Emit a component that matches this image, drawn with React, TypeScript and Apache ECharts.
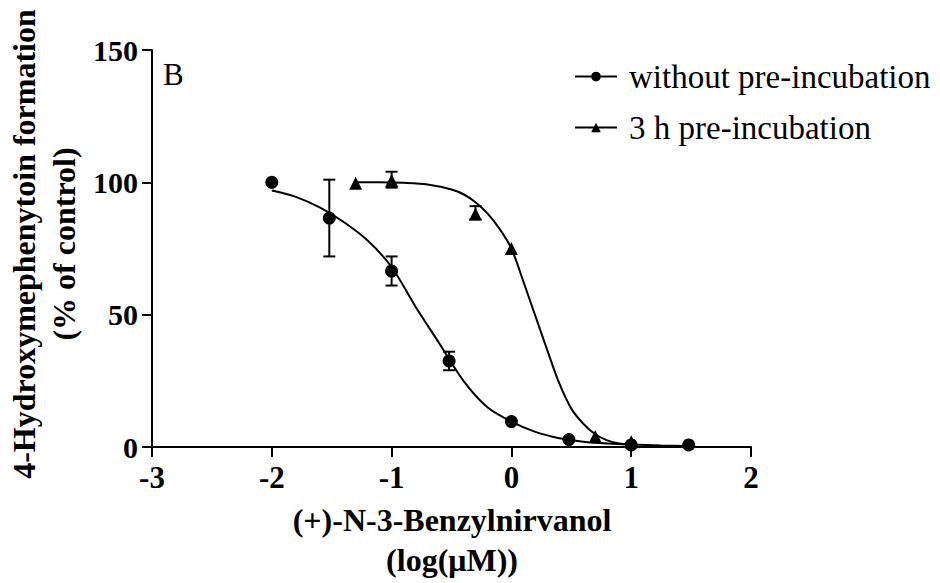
import React, { useEffect, useRef } from "react";
import * as echarts from "echarts";

// Measured data: without pre-incubation (circles)
const circleX = [-2, -1.52, -1, -0.52, 0, 0.48, 1, 1.48];
const circleY = [100, 86.5, 66.5, 32.5, 9.6, 2.8, 0.8, 0.8];
const circleErrX = [-1.52, -1, -0.52];
const circleErrLow = [72, 61, 29];
const circleErrHigh = [101, 72, 36];

// 3 h pre-incubation (triangles)
const triX = [-1.3, -1, -0.3, 0, 0.7, 1];
const triY = [99.7, 100.7, 88, 75, 4, 2];
const triErrX = [-1, -0.3];
const triErrLow = [98, 86];
const triErrHigh = [104, 91];

// Fitted curves
const circleCurveX = [-2, -1.8, -1.6, -1.4, -1.2, -1, -0.8, -0.6, -0.4, -0.2, 0, 0.2, 0.4, 0.6, 0.8, 1, 1.25, 1.48];
const circleCurveY = [96.9, 94.5, 90.5, 85, 78, 68, 53, 39, 25, 15, 9.6, 5.7, 3.3, 2.0, 1.3, 0.9, 0.6, 0.4];
const triCurveX = [-1.3, -1.1, -0.9, -0.7, -0.5, -0.4, -0.3, -0.2, -0.1, 0, 0.1, 0.2, 0.3, 0.4, 0.5, 0.6, 0.7, 0.8, 0.9, 1];
const triCurveY = [100, 100, 99.8, 99.2, 97.3, 95.5, 92.5, 88.3, 82.5, 75, 62.5, 49.5, 36.5, 24, 14.5, 8.8, 4.8, 2.5, 1.3, 0.8];

const xTickMin = -3;
const xTickMax = 2;
const yTickMin = 0;
const yTickMax = 150;

const seriesNames = ["without pre-incubation", "3 h pre-incubation"];
const xTitle = "(+)-N-3-Benzylnirvanol\n(log(μM))";
const yTitle = "4-Hydroxymephenytoin formation\n(% of control)";
const panelLabel = "B";

const FONT = '"Liberation Serif", "Times New Roman", serif';

function zip(a: number[], b: number[]) {
  return a.map((v, i) => [v, b[i]]);
}
function zip3(a: number[], b: number[], c: number[]) {
  return a.map((v, i) => [v, b[i], c[i]]);
}

function errRender(params: any, api: any) {
  const x = api.value(0);
  const lo = api.coord([x, api.value(1)]);
  const hi = api.coord([x, api.value(2)]);
  const w = 6;
  const style = { stroke: "#000", lineWidth: 2 };
  return {
    type: "group",
    children: [
      { type: "line", shape: { x1: lo[0], y1: lo[1], x2: hi[0], y2: hi[1] }, style },
      { type: "line", shape: { x1: hi[0] - w, y1: hi[1], x2: hi[0] + w, y2: hi[1] }, style },
      { type: "line", shape: { x1: lo[0] - w, y1: lo[1], x2: lo[0] + w, y2: lo[1] }, style },
    ],
  };
}

export default function App() {
  const ref = useRef<HTMLDivElement>(null);
  useEffect(() => {
    const chart = echarts.init(ref.current!, null, { renderer: "svg" });
    const tickStyle = { show: true, inside: false, length: 10, lineStyle: { color: "#000", width: 2 } };
    chart.setOption({
      animation: false,
      backgroundColor: "#fff",
      grid: { left: 152, right: 189, top: 50, bottom: 136, containLabel: false },
      xAxis: {
        type: "value",
        min: xTickMin,
        max: xTickMax,
        interval: 1,
        axisLine: { show: true, onZero: false, lineStyle: { color: "#000", width: 2 } },
        axisTick: tickStyle,
        splitLine: { show: false },
        axisLabel: { color: "#000", fontFamily: FONT, fontWeight: "bold", fontSize: 31, margin: 15 },
      },
      yAxis: {
        type: "value",
        min: yTickMin,
        max: yTickMax,
        interval: 50,
        axisLine: { show: true, onZero: false, lineStyle: { color: "#000", width: 2 } },
        axisTick: tickStyle,
        splitLine: { show: false },
        axisLabel: { color: "#000", fontFamily: FONT, fontWeight: "bold", fontSize: 30, margin: 14 },
      },
      legend: {
        orient: "vertical",
        left: 569,
        top: 55,
        itemGap: 18,
        itemWidth: 42,
        itemHeight: 12,
        data: seriesNames,
        textStyle: { color: "#000", fontFamily: FONT, fontSize: 33, padding: [0, 0, 0, 7] },
      },
      graphic: [
        {
          type: "text",
          left: 163,
          top: 59,
          style: { text: panelLabel, fill: "#000", font: `31px ${FONT}` },
        },
        {
          type: "text",
          x: 452,
          y: 540,
          style: {
            text: xTitle,
            fill: "#000",
            font: `bold 32px ${FONT}`,
            align: "center",
            verticalAlign: "middle",
            lineHeight: 40,
          },
        },
        {
          type: "text",
          x: 44,
          y: 244,
          rotation: Math.PI / 2,
          style: {
            text: yTitle,
            fill: "#000",
            font: `bold 32px ${FONT}`,
            align: "center",
            verticalAlign: "middle",
            lineHeight: 40,
          },
        },
      ],
      series: [
        {
          name: seriesNames[0],
          type: "line",
          data: zip(circleCurveX, circleCurveY),
          smooth: 0.3,
          showSymbol: false,
          symbol: "circle",
          symbolSize: 10,
          itemStyle: { color: "#000" },
          lineStyle: { color: "#000", width: 2 },
          z: 2,
        },
        {
          name: seriesNames[1],
          type: "line",
          data: zip(triCurveX, triCurveY),
          smooth: 0.3,
          showSymbol: false,
          symbol: "triangle",
          symbolSize: 10,
          itemStyle: { color: "#000" },
          lineStyle: { color: "#000", width: 2 },
          z: 2,
        },
        {
          name: seriesNames[0],
          type: "scatter",
          data: zip(circleX, circleY),
          symbol: "circle",
          symbolSize: 13,
          itemStyle: { color: "#000", opacity: 1 },
          z: 4,
        },
        {
          name: seriesNames[1],
          type: "scatter",
          data: zip(triX, triY),
          symbol: "triangle",
          symbolSize: 13,
          itemStyle: { color: "#000", opacity: 1 },
          z: 4,
        },
        {
          type: "custom",
          data: zip3(circleErrX, circleErrLow, circleErrHigh),
          renderItem: errRender,
          z: 3,
        },
        {
          type: "custom",
          data: zip3(triErrX, triErrLow, triErrHigh),
          renderItem: errRender,
          z: 3,
        },
      ],
    });
    return () => chart.dispose();
  }, []);
  return <div ref={ref} style={{ position: "absolute", left: 0, top: 0, width: 940, height: 583 }} />;
}
